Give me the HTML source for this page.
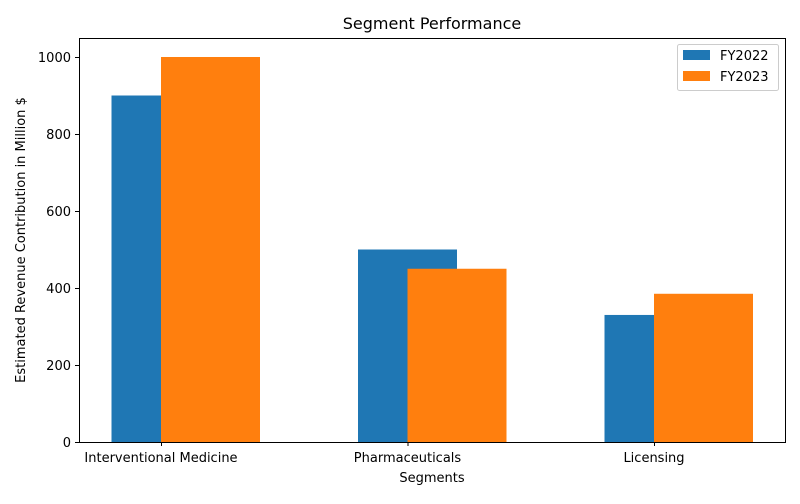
<!DOCTYPE html>
<html><head><meta charset="utf-8"><style>
body{margin:0;background:#fff;font-family:"DejaVu Sans","Liberation Sans",sans-serif;}
</style></head><body>
<svg id="chart" width="800" height="500" xmlns="http://www.w3.org/2000/svg" font-family="DejaVu Sans, Liberation Sans, sans-serif">
<rect width="800" height="500" fill="#fff"/>
<text x="432" y="29" text-anchor="middle" font-size="16" fill="#000">Segment Performance</text>
<g id="plot"></g>
<rect x="79.5" y="38.5" width="706" height="404" fill="none" stroke="#000" stroke-width="1"/>
<text x="432" y="482" text-anchor="middle" font-size="13">Segments</text>
<text transform="translate(25,240) rotate(-90)" text-anchor="middle" font-size="13">Estimated Revenue Contribution in Million $</text>
<g>
<rect x="677.5" y="44.5" width="101" height="46" rx="2" fill="#fff" stroke="#ccc"/>
<rect x="683" y="50" width="27" height="10" fill="#1f77b4"/>
<text x="720" y="60" font-size="13">FY2022</text>
<rect x="683" y="71" width="27" height="10" fill="#ff7f0e"/>
<text x="720" y="81" font-size="13">FY2023</text>
</g>
</svg>
<script>
const categories = ["Interventional Medicine", "Pharmaceuticals", "Licensing"];
const fy2022 = [900, 500, 330];
const fy2023 = [1000, 450, 385];
const yTicks = [0, 200, 400, 600, 800, 1000];

const ns = "http://www.w3.org/2000/svg";
const plot = document.getElementById("plot");
const y = v => 442 - v * 0.385;
const x = i => 161 + i * 246.5;
const bw = 99;
function mk(tag, attrs){const e=document.createElementNS(ns,tag);for(const k in attrs)e.setAttribute(k,attrs[k]);plot.appendChild(e);return e;}

yTicks.forEach(t=>{
  const l=mk("line",{x1:75,x2:79,y1:y(t)+0.5,y2:y(t)+0.5,stroke:"#000"});
  
  
  const tx=mk("text",{x:71,y:y(t)+5,"text-anchor":"end","font-size":"13"});
  tx.textContent=t;
  
  
});
categories.forEach((c,i)=>{
  const b1=mk("rect",{x:x(i)-bw/2,y:y(fy2022[i]),width:bw,height:442-y(fy2022[i]),fill:"#1f77b4"});
  
  
  const b2=mk("rect",{x:x(i),y:y(fy2023[i]),width:bw,height:442-y(fy2023[i]),fill:"#ff7f0e"});
  
  
  const tk=mk("line",{x1:x(i)+0.5,x2:x(i)+0.5,y1:442,y2:446,stroke:"#000"});
  
  
  const tl=mk("text",{x:x(i),y:462,"text-anchor":"middle","font-size":"13"});
  tl.textContent=c;
  
  
});
</script>
</body></html>
